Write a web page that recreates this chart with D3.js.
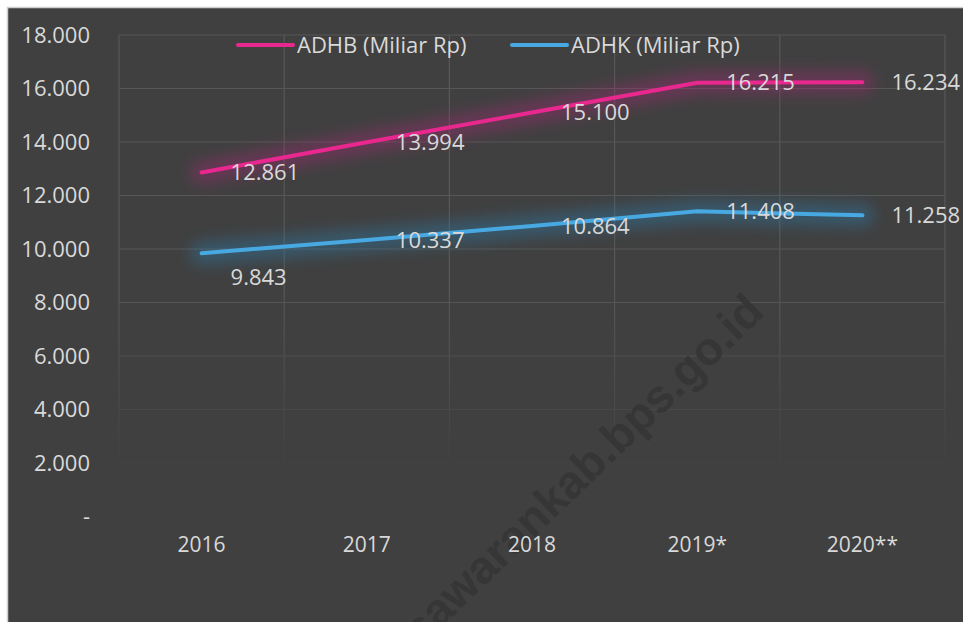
<!DOCTYPE html>
<html lang="id">
<head>
    <meta charset="UTF-8">
    <title>ADHB dan ADHK</title>
    <script src="https://d3js.org/d3.v7.min.js"></script>
    <style>
        html, body { margin: 0; padding: 0; background: #ffffff; }
        svg { display: block; }
        text { font-family: "Open Sans", "Liberation Sans", sans-serif; }
    </style>
</head>
<body>
<div id="chart"></div>
<script>
    // data (Miliar Rp)
    const tahun = ["2016", "2017", "2018", "2019*", "2020**"];
    const adhb = [12861, 13994, 15100, 16215, 16234];
    const adhk = [9843, 10337, 10864, 11408, 11258];
    const yTicks = [0, 2000, 4000, 6000, 8000, 10000, 12000, 14000, 16000, 18000];

    const width = 963, height = 622;

    const svg = d3.select("#chart").append("svg")
        .attr("width", width)
        .attr("height", height);

    const defs = svg.append("defs");

    // blur untuk efek glow garis
    defs.append("filter").attr("id", "glow")
        .attr("x", "-20%").attr("y", "-100%").attr("width", "140%").attr("height", "300%")
        .append("feGaussianBlur").attr("stdDeviation", 7);

    // gridline memudar ke bawah
    const fade = defs.append("linearGradient").attr("id", "fadeGrad")
        .attr("gradientUnits", "userSpaceOnUse")
        .attr("x1", 0).attr("y1", 290).attr("x2", 0).attr("y2", 480);
    fade.append("stop").attr("offset", 0).attr("stop-color", "#fff");
    fade.append("stop").attr("offset", 1).attr("stop-color", "#000");
    defs.append("mask").attr("id", "gridMask")
        .attr("maskUnits", "userSpaceOnUse")
        .attr("x", 0).attr("y", 0).attr("width", width).attr("height", height)
        .append("rect")
        .attr("width", width).attr("height", height)
        .attr("fill", "url(#fadeGrad)");

    // panel gelap
    svg.append("rect")
        .attr("x", 7.5).attr("y", 7.5)
        .attr("width", width).attr("height", height)
        .attr("fill", "#404040")
        .attr("stroke", "#cfcfcf")
        .attr("stroke-width", 1.5);

    const x = d3.scaleBand().domain(tahun).range([119, 945]);
    const y = d3.scaleLinear().domain([0, 18000]).range([516.5, 35]);
    const cx = d => x(d) + x.bandwidth() / 2;

    const loc = d3.formatLocale({ decimal: ",", thousands: ".", grouping: [3], currency: ["Rp", ""] });
    const fmt = loc.format(",.0f");
    const fmtTick = v => v === 0 ? "-" : fmt(v);

    // grid
    const grid = svg.append("g").attr("mask", "url(#gridMask)")
        .attr("stroke", "#575757").attr("stroke-width", 1.2);
    grid.selectAll(".h").data(yTicks.filter(v => v > 0)).enter().append("line")
        .attr("x1", 119).attr("x2", 945)
        .attr("y1", d => y(d)).attr("y2", d => y(d));
    const vlines = tahun.map(t => x(t)).concat([x.range()[1]]);
    grid.selectAll(".v").data(vlines).enter().append("line")
        .attr("x1", d => d).attr("x2", d => d)
        .attr("y1", y(18000)).attr("y2", y(0));

    // watermark
    svg.append("text")
        .attr("transform", "translate(766,314) rotate(-44)")
        .attr("text-anchor", "end")
        .attr("font-size", 46)
        .attr("font-weight", "bold")
        .attr("fill", "#363636")
        .style("font-family", "'Liberation Sans', sans-serif")
        .text("https://pesawarankab.bps.go.id");

    // sumbu y
    const yAxis = d3.axisLeft(y).tickValues(yTicks).tickFormat(fmtTick).tickSize(0).tickPadding(0);
    const gy = svg.append("g").attr("transform", "translate(90,0)").call(yAxis);
    gy.select(".domain").remove();
    gy.selectAll("text").attr("fill", "#d9d9d9").attr("font-size", 22)
        .style("font-family", "'Open Sans', sans-serif");

    // sumbu x
    const xAxis = d3.axisBottom(x).tickSize(0).tickPadding(0);
    const gx = svg.append("g").attr("transform", "translate(0,545)").call(xAxis);
    gx.select(".domain").remove();
    gx.selectAll("text").attr("fill", "#d9d9d9").attr("font-size", 21)
        .attr("dy", "0.35em")
        .style("font-family", "'Open Sans', sans-serif");

    const series = [
        { name: "ADHB (Miliar Rp)", values: adhb, color: "#e8288e", glow: "#a02a72" },
        { name: "ADHK (Miliar Rp)", values: adhk, color: "#48a9e2", glow: "#2f7aa8" }
    ];

    const line = d3.line()
        .x((d, i) => cx(tahun[i]))
        .y(d => y(d));

    series.forEach(s => {
        svg.append("path")
            .attr("d", line(s.values))
            .attr("fill", "none")
            .attr("stroke", s.glow)
            .attr("stroke-width", 24)
            .attr("stroke-linecap", "round")
            .attr("stroke-linejoin", "round")
            .attr("opacity", 0.4)
            .attr("filter", "url(#glow)");
        svg.append("path")
            .attr("d", line(s.values))
            .attr("fill", "none")
            .attr("stroke", s.color)
            .attr("stroke-width", 4)
            .attr("stroke-linecap", "round")
            .attr("stroke-linejoin", "round");
    });

    // label data, 9.843 digeser ke bawah seperti aslinya
    series.forEach((s, si) => {
        svg.selectAll(".lbl" + si).data(s.values).enter().append("text")
            .attr("x", (d, i) => cx(tahun[i]) + 29)
            .attr("y", (d, i) => y(d) + (si === 1 && i === 0 ? 24 : 0))
            .attr("dy", "0.35em")
            .attr("fill", "#d9d9d9")
            .attr("font-size", 22)
            .text(d => fmt(d));
    });

    // legenda
    const legX = [238, 512];
    series.forEach((s, i) => {
        const g = svg.append("g").attr("transform", `translate(${legX[i]},45)`);
        g.append("line").attr("x1", 0).attr("x2", 55)
            .attr("stroke", s.color).attr("stroke-width", 4).attr("stroke-linecap", "round");
        g.append("text").attr("x", 59).attr("dy", "0.35em")
            .attr("fill", "#d9d9d9").attr("font-size", 22)
            .text(s.name);
    });
</script>
</body>
</html>
